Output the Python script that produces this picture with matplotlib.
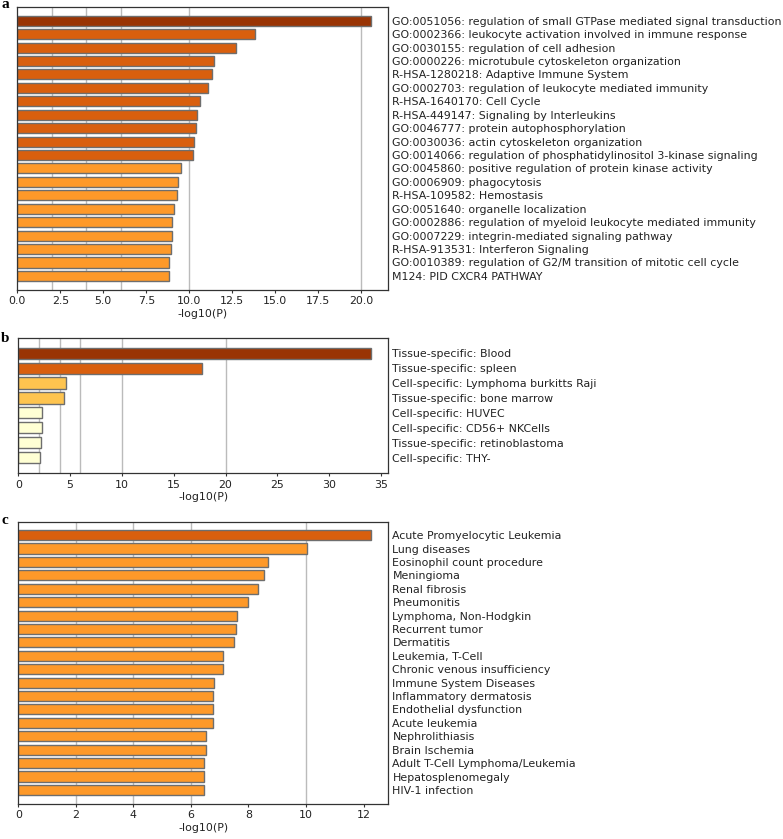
import matplotlib
matplotlib.use("Agg")
import matplotlib.pyplot as plt

# panel a: GO / pathway enrichment
a_terms = [
    "GO:0051056: regulation of small GTPase mediated signal transduction",
    "GO:0002366: leukocyte activation involved in immune response",
    "GO:0030155: regulation of cell adhesion",
    "GO:0000226: microtubule cytoskeleton organization",
    "R-HSA-1280218: Adaptive Immune System",
    "GO:0002703: regulation of leukocyte mediated immunity",
    "R-HSA-1640170: Cell Cycle",
    "R-HSA-449147: Signaling by Interleukins",
    "GO:0046777: protein autophosphorylation",
    "GO:0030036: actin cytoskeleton organization",
    "GO:0014066: regulation of phosphatidylinositol 3-kinase signaling",
    "GO:0045860: positive regulation of protein kinase activity",
    "GO:0006909: phagocytosis",
    "R-HSA-109582: Hemostasis",
    "GO:0051640: organelle localization",
    "GO:0002886: regulation of myeloid leukocyte mediated immunity",
    "GO:0007229: integrin-mediated signaling pathway",
    "R-HSA-913531: Interferon Signaling",
    "GO:0010389: regulation of G2/M transition of mitotic cell cycle",
    "M124: PID CXCR4 PATHWAY",
]
a_vals = [20.55, 13.80, 12.71, 11.42, 11.30, 11.07, 10.64, 10.47, 10.37, 10.25,
          10.21, 9.52, 9.34, 9.30, 9.11, 9.01, 9.01, 8.92, 8.84, 8.84]
a_cols = ["#993404"] + ["#d95f0e"] * 10 + ["#fe9929"] * 9

# panel b: tissue / cell specific
b_terms = [
    "Tissue-specific: Blood",
    "Tissue-specific: spleen",
    "Cell-specific: Lymphoma burkitts Raji",
    "Tissue-specific: bone marrow",
    "Cell-specific: HUVEC",
    "Cell-specific: CD56+ NKCells",
    "Tissue-specific: retinoblastoma",
    "Cell-specific: THY-",
]
b_vals = [34.0, 17.74, 4.60, 4.37, 2.28, 2.28, 2.19, 2.09]
b_cols = ["#993404", "#d95f0e", "#fec44f", "#fec44f",
          "#ffffd4", "#ffffd4", "#ffffd4", "#ffffd4"]

# panel c: diseases
c_terms = [
    "Acute Promyelocytic Leukemia",
    "Lung diseases",
    "Eosinophil count procedure",
    "Meningioma",
    "Renal fibrosis",
    "Pneumonitis",
    "Lymphoma, Non-Hodgkin",
    "Recurrent tumor",
    "Dermatitis",
    "Leukemia, T-Cell",
    "Chronic venous insufficiency",
    "Immune System Diseases",
    "Inflammatory dermatosis",
    "Endothelial dysfunction",
    "Acute leukemia",
    "Nephrolithiasis",
    "Brain Ischemia",
    "Adult T-Cell Lymphoma/Leukemia",
    "Hepatosplenomegaly",
    "HIV-1 infection",
]
c_vals = [12.26, 10.02, 8.67, 8.53, 8.32, 7.97, 7.59, 7.56, 7.49, 7.12,
          7.12, 6.81, 6.78, 6.78, 6.78, 6.51, 6.51, 6.45, 6.45, 6.45]
c_cols = ["#d95f0e"] + ["#fe9929"] * 19

W, H = 783, 839
FS = 7.9


def bar_panel(fig, box, terms, vals, cols, xmax, xticks, xticklabels, grid):
    # box in pixels: left, top, right, bottom
    l, t, r, b = box
    ax = fig.add_axes([l / W, 1 - b / H, (r - l) / W, (b - t) / H])
    n = len(vals)
    for g in grid:
        ax.axvline(g, color="#bbbbbb", lw=1.0, zorder=0)
    ax.barh(range(n), vals, height=0.75, color=cols,
            edgecolor="#6e6e6e", linewidth=1.0, zorder=2)
    ax.set_ylim(n + 0.05, -1)
    ax.set_xlim(0, xmax)
    ax.set_yticks(range(n))
    ax.set_yticklabels(terms, fontsize=FS, color="#222222")
    ax.yaxis.tick_right()
    ax.tick_params(axis="y", length=0, pad=3)
    ax.set_xticks(xticks)
    ax.set_xticklabels(xticklabels, fontsize=FS, color="#222222")
    ax.tick_params(axis="x", length=2.5, width=0.8, pad=2, color="#333333")
    ax.set_xlabel("-log10(P)", fontsize=FS, color="#222222", labelpad=2)
    for s in ax.spines.values():
        s.set_color("#333333")
        s.set_linewidth(0.9)
    return ax


fig = plt.figure(figsize=(W / 100, H / 100), dpi=100)

bar_panel(fig, (17.3, 7.3, 388, 290), a_terms, a_vals, a_cols, 21.55,
          [0, 2.5, 5, 7.5, 10, 12.5, 15, 17.5, 20],
          ["0.0", "2.5", "5.0", "7.5", "10.0", "12.5", "15.0", "17.5", "20.0"],
          [2, 4, 6, 10, 20])
bar_panel(fig, (18.3, 338.3, 388.3, 473.3), b_terms, b_vals, b_cols, 35.7,
          [0, 5, 10, 15, 20, 25, 30, 35],
          ["0", "5", "10", "15", "20", "25", "30", "35"],
          [2, 4, 6, 10, 20])
bar_panel(fig, (18.3, 521.7, 388.3, 804), c_terms, c_vals, c_cols, 12.86,
          [0, 2, 4, 6, 8, 10, 12],
          ["0", "2", "4", "6", "8", "10", "12"],
          [2, 4, 6, 10])

for letter, ypx in [("a", 5), ("b", 338), ("c", 521)]:
    fig.text(1 / W, 1 - ypx / H, letter, fontsize=11, fontweight="bold",
             family="Liberation Serif", ha="left", va="center")

fig.savefig("out.png", dpi=100)
